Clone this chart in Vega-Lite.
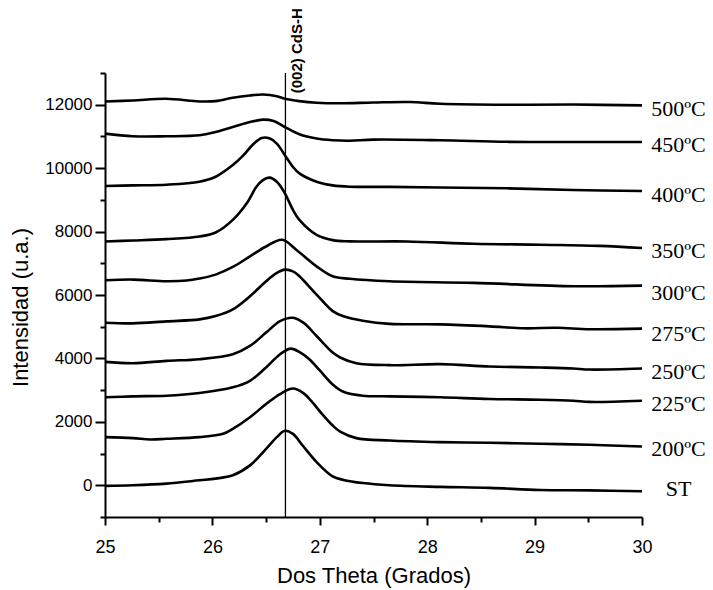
{
"$schema":"https://vega.github.io/schema/vega-lite/v6.json",
"width":537,"height":444,
"autosize":{"type":"none"},
"padding":{"left":105,"top":73,"right":71,"bottom":73},
"background":"white",
"config":{"view":{"stroke":null},"axis":{"grid":false,"domainColor":"black","tickColor":"black","labelColor":"black","titleColor":"black","labelFont":"Liberation Sans","titleFont":"Liberation Sans","titleFontWeight":"normal"}},
"resolve":{"axis":{"x":"independent","y":"independent"}},
"layer":[
{"data":{"values":[
{"s":"500ºC","x":25.0,"y":12103},{"s":"500ºC","x":25.26,"y":12135},{"s":"500ºC","x":25.57,"y":12187},{"s":"500ºC","x":25.88,"y":12103},{"s":"500ºC","x":26.03,"y":12113},{"s":"500ºC","x":26.19,"y":12219},{"s":"500ºC","x":26.35,"y":12292},{"s":"500ºC","x":26.47,"y":12323},{"s":"500ºC","x":26.6,"y":12270},{"s":"500ºC","x":26.675,"y":12187},{"s":"500ºC","x":26.81,"y":12113},{"s":"500ºC","x":26.97,"y":12062},{"s":"500ºC","x":27.19,"y":12045},{"s":"500ºC","x":27.5,"y":12070},{"s":"500ºC","x":27.84,"y":12085},{"s":"500ºC","x":28.12,"y":12031},{"s":"500ºC","x":28.74,"y":12000},{"s":"500ºC","x":29.36,"y":12005},{"s":"500ºC","x":30.0,"y":11978},
{"s":"450ºC","x":25.0,"y":11089},{"s":"450ºC","x":25.26,"y":11005},{"s":"450ºC","x":25.57,"y":11005},{"s":"450ºC","x":25.88,"y":11036},{"s":"450ºC","x":26.03,"y":11140},{"s":"450ºC","x":26.19,"y":11297},{"s":"450ºC","x":26.35,"y":11454},{"s":"450ºC","x":26.47,"y":11529},{"s":"450ºC","x":26.57,"y":11485},{"s":"450ºC","x":26.675,"y":11297},{"s":"450ºC","x":26.81,"y":11068},{"s":"450ºC","x":26.97,"y":10933},{"s":"450ºC","x":27.12,"y":10880},{"s":"450ºC","x":27.28,"y":10865},{"s":"450ºC","x":27.5,"y":10900},{"s":"450ºC","x":28.12,"y":10880},{"s":"450ºC","x":28.74,"y":10830},{"s":"450ºC","x":29.36,"y":10826},{"s":"450ºC","x":30.0,"y":10826},
{"s":"400ºC","x":25.0,"y":9436},{"s":"400ºC","x":25.26,"y":9457},{"s":"400ºC","x":25.57,"y":9478},{"s":"400ºC","x":25.88,"y":9572},{"s":"400ºC","x":26.03,"y":9729},{"s":"400ºC","x":26.19,"y":10096},{"s":"400ºC","x":26.29,"y":10409},{"s":"400ºC","x":26.38,"y":10754},{"s":"400ºC","x":26.46,"y":10950},{"s":"400ºC","x":26.53,"y":10940},{"s":"400ºC","x":26.6,"y":10775},{"s":"400ºC","x":26.675,"y":10409},{"s":"400ºC","x":26.75,"y":10042},{"s":"400ºC","x":26.81,"y":9834},{"s":"400ºC","x":26.97,"y":9572},{"s":"400ºC","x":27.12,"y":9457},{"s":"400ºC","x":27.28,"y":9414},{"s":"400ºC","x":27.65,"y":9410},{"s":"400ºC","x":28.12,"y":9390},{"s":"400ºC","x":28.74,"y":9364},{"s":"400ºC","x":29.36,"y":9310},{"s":"400ºC","x":30.0,"y":9279},
{"s":"350ºC","x":25.0,"y":7688},{"s":"350ºC","x":25.26,"y":7719},{"s":"350ºC","x":25.57,"y":7763},{"s":"350ºC","x":25.88,"y":7845},{"s":"350ºC","x":26.03,"y":7970},{"s":"350ºC","x":26.19,"y":8369},{"s":"350ºC","x":26.32,"y":8893},{"s":"350ºC","x":26.41,"y":9414},{"s":"350ºC","x":26.47,"y":9624},{"s":"350ºC","x":26.53,"y":9700},{"s":"350ºC","x":26.6,"y":9572},{"s":"350ºC","x":26.675,"y":9206},{"s":"350ºC","x":26.75,"y":8683},{"s":"350ºC","x":26.81,"y":8369},{"s":"350ºC","x":26.97,"y":7898},{"s":"350ºC","x":27.12,"y":7730},{"s":"350ºC","x":27.28,"y":7690},{"s":"350ºC","x":27.81,"y":7688},{"s":"350ºC","x":28.43,"y":7616},{"s":"350ºC","x":29.05,"y":7585},{"s":"350ºC","x":29.6,"y":7550},{"s":"350ºC","x":30.0,"y":7481},
{"s":"300ºC","x":25.0,"y":6465},{"s":"300ºC","x":25.26,"y":6486},{"s":"300ºC","x":25.57,"y":6433},{"s":"300ºC","x":25.76,"y":6455},{"s":"300ºC","x":25.88,"y":6520},{"s":"300ºC","x":26.03,"y":6643},{"s":"300ºC","x":26.19,"y":6884},{"s":"300ºC","x":26.35,"y":7218},{"s":"300ºC","x":26.5,"y":7530},{"s":"300ºC","x":26.65,"y":7741},{"s":"300ºC","x":26.78,"y":7428},{"s":"300ºC","x":26.97,"y":6904},{"s":"300ºC","x":27.12,"y":6590},{"s":"300ºC","x":27.28,"y":6510},{"s":"300ºC","x":27.65,"y":6433},{"s":"300ºC","x":28.43,"y":6382},{"s":"300ºC","x":29.36,"y":6277},{"s":"300ºC","x":30.0,"y":6297},
{"s":"275ºC","x":25.0,"y":5127},{"s":"275ºC","x":25.26,"y":5106},{"s":"275ºC","x":25.57,"y":5168},{"s":"275ºC","x":25.88,"y":5231},{"s":"275ºC","x":26.03,"y":5335},{"s":"275ºC","x":26.19,"y":5545},{"s":"275ºC","x":26.35,"y":5962},{"s":"275ºC","x":26.5,"y":6433},{"s":"275ºC","x":26.6,"y":6695},{"s":"275ºC","x":26.675,"y":6800},{"s":"275ºC","x":26.75,"y":6747},{"s":"275ºC","x":26.81,"y":6590},{"s":"275ºC","x":26.97,"y":6015},{"s":"275ºC","x":27.12,"y":5492},{"s":"275ºC","x":27.22,"y":5330},{"s":"275ºC","x":27.4,"y":5190},{"s":"275ºC","x":27.65,"y":5090},{"s":"275ºC","x":28.12,"y":5074},{"s":"275ºC","x":28.58,"y":5011},{"s":"275ºC","x":28.9,"y":4950},{"s":"275ºC","x":29.21,"y":4965},{"s":"275ºC","x":29.51,"y":4920},{"s":"275ºC","x":30.0,"y":4939},
{"s":"250ºC","x":25.0,"y":3891},{"s":"250ºC","x":25.26,"y":3850},{"s":"250ºC","x":25.57,"y":3923},{"s":"250ºC","x":25.88,"y":3976},{"s":"250ºC","x":26.19,"y":4133},{"s":"250ºC","x":26.35,"y":4393},{"s":"250ºC","x":26.5,"y":4814},{"s":"250ºC","x":26.63,"y":5178},{"s":"250ºC","x":26.75,"y":5283},{"s":"250ºC","x":26.85,"y":5120},{"s":"250ºC","x":26.97,"y":4707},{"s":"250ºC","x":27.12,"y":4186},{"s":"250ºC","x":27.19,"y":4029},{"s":"250ºC","x":27.34,"y":3850},{"s":"250ºC","x":27.65,"y":3788},{"s":"250ºC","x":28.12,"y":3819},{"s":"250ºC","x":28.58,"y":3746},{"s":"250ºC","x":29.05,"y":3715},{"s":"250ºC","x":29.36,"y":3684},{"s":"250ºC","x":29.51,"y":3650},{"s":"250ºC","x":30.0,"y":3684},
{"s":"225ºC","x":25.0,"y":2774},{"s":"225ºC","x":25.26,"y":2805},{"s":"225ºC","x":25.57,"y":2824},{"s":"225ºC","x":25.88,"y":2909},{"s":"225ºC","x":26.19,"y":3088},{"s":"225ºC","x":26.35,"y":3295},{"s":"225ºC","x":26.5,"y":3715},{"s":"225ºC","x":26.63,"y":4133},{"s":"225ºC","x":26.73,"y":4310},{"s":"225ºC","x":26.82,"y":4180},{"s":"225ºC","x":26.9,"y":3980},{"s":"225ºC","x":27.0,"y":3620},{"s":"225ºC","x":27.12,"y":3180},{"s":"225ºC","x":27.22,"y":2950},{"s":"225ºC","x":27.4,"y":2824},{"s":"225ºC","x":27.65,"y":2805},{"s":"225ºC","x":28.12,"y":2774},{"s":"225ºC","x":28.58,"y":2721},{"s":"225ºC","x":29.05,"y":2699},{"s":"225ºC","x":29.36,"y":2667},{"s":"225ºC","x":29.51,"y":2630},{"s":"225ºC","x":30.0,"y":2667},
{"s":"200ºC","x":25.0,"y":1519},{"s":"200ºC","x":25.26,"y":1487},{"s":"200ºC","x":25.42,"y":1444},{"s":"200ºC","x":25.57,"y":1465},{"s":"200ºC","x":25.88,"y":1519},{"s":"200ºC","x":26.1,"y":1622},{"s":"200ºC","x":26.19,"y":1779},{"s":"200ºC","x":26.35,"y":2146},{"s":"200ºC","x":26.5,"y":2564},{"s":"200ºC","x":26.63,"y":2878},{"s":"200ºC","x":26.75,"y":3050},{"s":"200ºC","x":26.85,"y":2900},{"s":"200ºC","x":26.92,"y":2660},{"s":"200ºC","x":27.02,"y":2250},{"s":"200ºC","x":27.12,"y":1883},{"s":"200ºC","x":27.19,"y":1690},{"s":"200ºC","x":27.34,"y":1487},{"s":"200ºC","x":27.65,"y":1412},{"s":"200ºC","x":28.12,"y":1362},{"s":"200ºC","x":28.58,"y":1340},{"s":"200ºC","x":29.05,"y":1309},{"s":"200ºC","x":29.51,"y":1277},{"s":"200ºC","x":30.0,"y":1224},
{"s":"ST","x":25.0,"y":-19},{"s":"ST","x":25.26,"y":0},{"s":"ST","x":25.57,"y":52},{"s":"ST","x":25.88,"y":157},{"s":"ST","x":26.03,"y":210},{"s":"ST","x":26.19,"y":314},{"s":"ST","x":26.35,"y":628},{"s":"ST","x":26.5,"y":1151},{"s":"ST","x":26.6,"y":1518},{"s":"ST","x":26.675,"y":1720},{"s":"ST","x":26.75,"y":1622},{"s":"ST","x":26.84,"y":1255},{"s":"ST","x":26.97,"y":733},{"s":"ST","x":27.12,"y":280},{"s":"ST","x":27.22,"y":170},{"s":"ST","x":27.4,"y":70},{"s":"ST","x":27.65,"y":0},{"s":"ST","x":28.12,"y":-50},{"s":"ST","x":28.58,"y":-82},{"s":"ST","x":29.05,"y":-150},{"s":"ST","x":29.51,"y":-160},{"s":"ST","x":30.0,"y":-188}
]},
"mark":{"type":"line","color":"black","strokeWidth":2.6,"interpolate":"catmull-rom"},
"encoding":{
"x":{"field":"x","type":"quantitative","scale":{"domain":[25,30],"nice":false,"zero":false},
"axis":{"orient":"bottom","title":"Dos Theta (Grados)","values":[25,26,27,28,29,30],"format":"d","tickSize":8,"domainWidth":2,"tickWidth":2,"labelFontSize":18,"labelPadding":13,"labelFlush":false,"labelOverlap":false,"titleFontSize":22,"titlePadding":9}},
"y":{"field":"y","type":"quantitative","scale":{"domain":[-1000,13000],"nice":false,"zero":false},
"axis":{"orient":"left","title":"Intensidad (u.a.)","values":[0,2000,4000,6000,8000,10000,12000],"format":"d","tickSize":10,"domainWidth":2,"tickWidth":2,"labelFontSize":17,"labelPadding":3,"labelOverlap":false,"labelFlush":false,"titleFontSize":22,"titleAngle":270,"titleX":-85,"titleY":234,"titleAlign":"center","titleBaseline":"middle"}},
"detail":{"field":"s"}}},
{"data":{"values":[{"x":26.68}]},"mark":{"type":"rule","color":"black","strokeWidth":1.3},"encoding":{"x":{"field":"x","type":"quantitative","axis":null}}},
{"data":{"values":[{"x":26.79,"y":13700,"t":"(002) CdS-H"}]},"mark":{"type":"text","angle":270,"fontWeight":"bold","fontSize":15,"font":"Liberation Sans","color":"black","align":"center","baseline":"middle","clip":false},"encoding":{
"x":{"field":"x","type":"quantitative","axis":{"orient":"bottom","title":null,"labels":false,"domain":false,"values":[25.5,26.5,27.5,28.5,29.5],"tickSize":5,"tickWidth":2}},
"y":{"field":"y","type":"quantitative","axis":{"orient":"left","title":null,"labels":false,"domain":false,"values":[-1000,1000,3000,5000,7000,9000,11000,13000],"tickSize":5,"tickWidth":2}},
"text":{"field":"t"}}},
{"data":{"values":[
{"s":"500ºC","x":30.34,"y":11874},{"s":"450ºC","x":30.34,"y":10745},{"s":"400ºC","x":30.34,"y":9154},{"s":"350ºC","x":30.34,"y":7396},{"s":"300ºC","x":30.34,"y":6069},{"s":"275ºC","x":30.34,"y":4782},{"s":"250ºC","x":30.34,"y":3577},{"s":"225ºC","x":30.34,"y":2564},{"s":"200ºC","x":30.34,"y":1152},{"s":"ST","x":30.34,"y":-104}
]},"mark":{"type":"text","font":"Liberation Serif","fontSize":22,"color":"black","align":"center","baseline":"middle","clip":false},"encoding":{"x":{"field":"x","type":"quantitative","axis":null},"y":{"field":"y","type":"quantitative","axis":null},"text":{"field":"s"}}}
]
}
